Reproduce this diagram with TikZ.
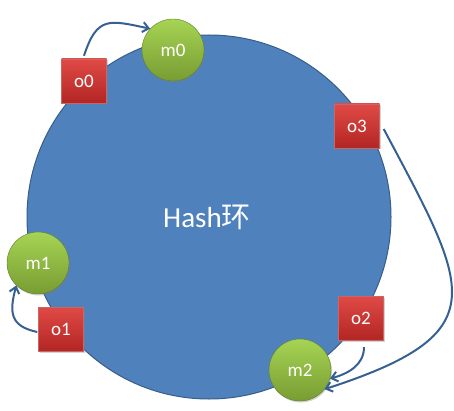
\documentclass[tikz,border=0pt]{standalone}
\usepackage{fontspec}
\setmainfont{Carlito}
\newfontfamily\cjk{Noto Sans CJK SC}
\usetikzlibrary{arrows.meta,shadows}
\usepackage{xcolor}
\definecolor{Ring}{RGB}{79,129,189}
\definecolor{RingLine}{RGB}{56,93,138}
\definecolor{BallTop}{RGB}{166,212,84}
\definecolor{BallBot}{RGB}{120,156,50}
\definecolor{BoxTop}{RGB}{224,74,70}
\definecolor{BoxBot}{RGB}{178,38,36}
\definecolor{Edge}{RGB}{54,96,146}
\tikzset{
  mnode/.style={circle,minimum size=62pt,inner sep=0pt,draw=BallBot!80!black,
                top color=BallTop,bottom color=BallBot,text=white,
                font=\fontsize{19}{21}\selectfont,
                drop shadow={shadow xshift=1pt,shadow yshift=-1.5pt,opacity=.35}},
  onode/.style={rectangle,minimum width=45pt,minimum height=44pt,inner sep=0pt,
                draw=BoxBot!70!white,top color=BoxTop,bottom color=BoxBot,text=white,
                font=\fontsize{19}{21}\selectfont,
                drop shadow={shadow xshift=1pt,shadow yshift=-1.5pt,opacity=.35}},
  medge/.style={-{Straight Barb[length=6pt,width=10pt]},Edge,line width=2pt},
}

\begin{document}
\begin{tikzpicture}[x=1pt,y=1pt]
    \useasboundingbox (0,0) rectangle (454,410);
    % hash ring
    \node[circle,minimum size=364pt,inner sep=0pt,fill=Ring,draw=RingLine,line width=1pt]
      (ring) at (209,193) {};
    \node[text=white,font=\fontsize{29}{32}\selectfont] (title) at (207,193) {Hash{\cjk 环}};

    % machines
    \node[mnode] (m0) at (173,360) {m0};
    \node[mnode] (m1) at (38,147) {m1};
    \node[mnode] (m2) at (300,40) {m2};

    % objects
    \node[onode] (o0) at (84,329) {o0};
    \node[onode] (o1) at (61,81) {o1};
    \node[onode] (o2) at (361,92) {o2};
    \node[onode] (o3) at (357,284) {o3};

    \draw[medge] ([yshift=3pt]o0.north) to[out=72,in=168,looseness=1.5] (m0.137);
    \draw[medge] ([yshift=-3pt,xshift=-1pt]o1.west) to[out=168,in=-105,looseness=1.4] (m1.226);
    \draw[medge] ([xshift=4pt,yshift=-3pt]o3.east) to[out=-62,in=18,looseness=1.75] (m2.-38);
    \draw[medge] ([xshift=3pt,yshift=-7pt]o2.south) to[out=-90,in=15] (m2.-16);
\end{tikzpicture}
\end{document}
